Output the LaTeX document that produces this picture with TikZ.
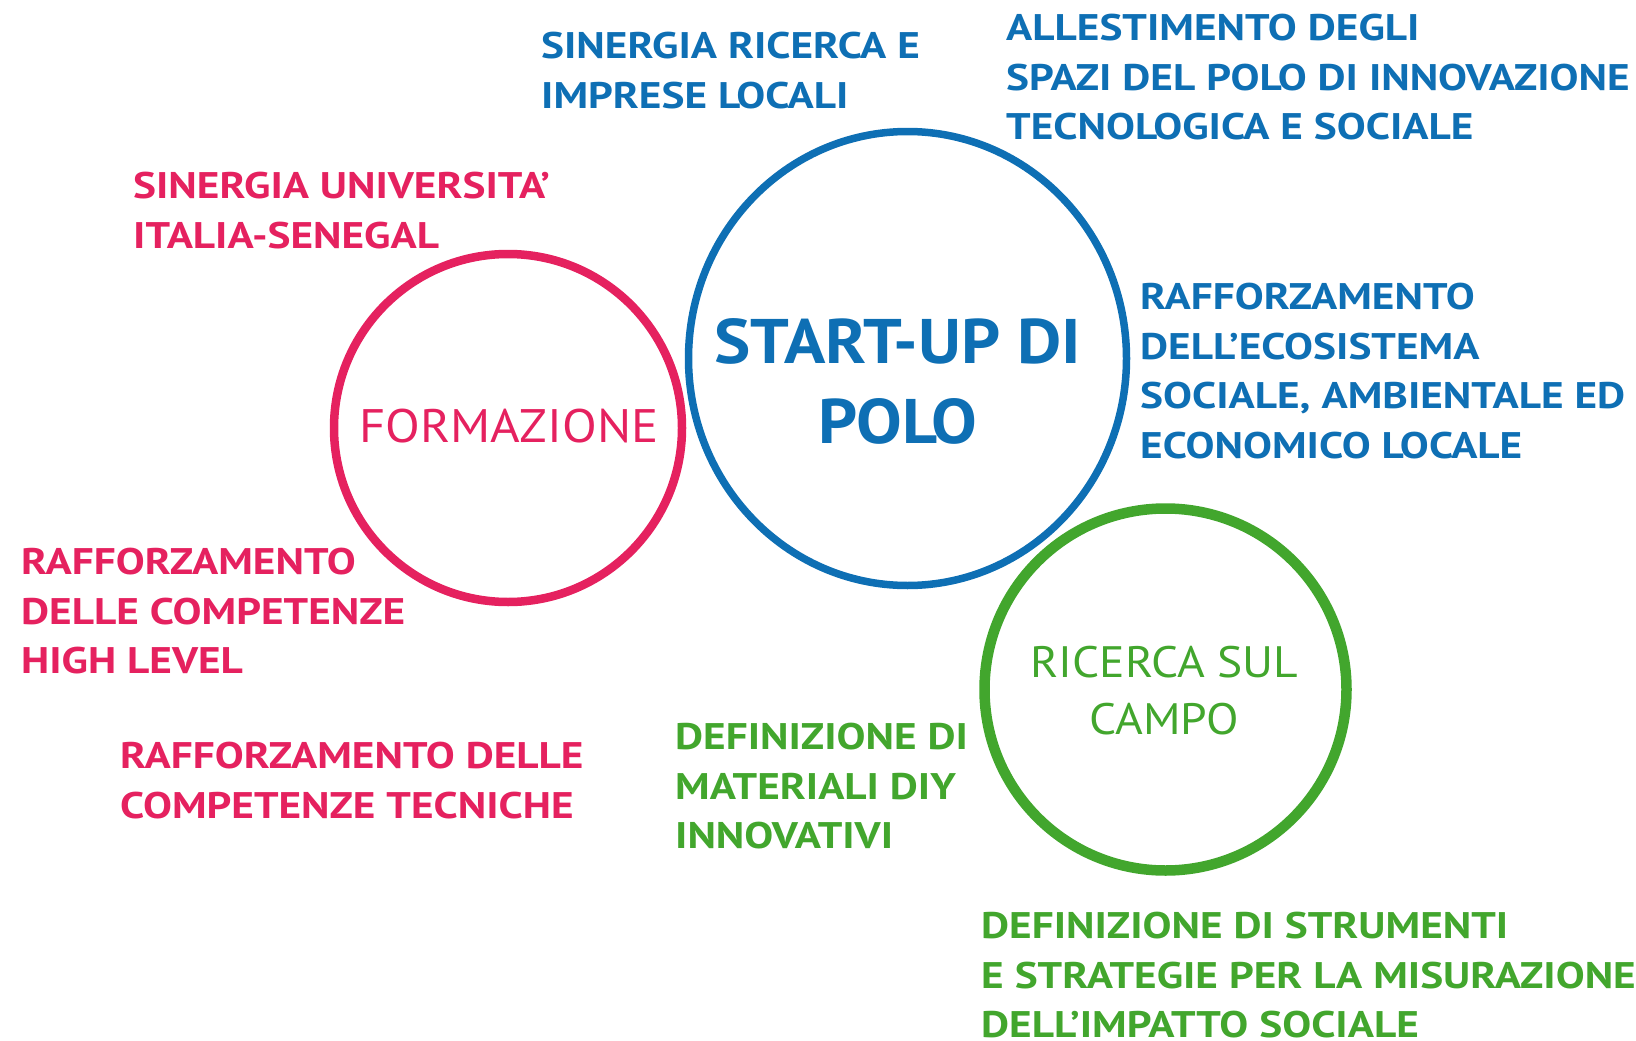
\documentclass[tikz,border=0pt]{standalone}
\usepackage{fontspec}
\setmainfont{PT Sans}
\newfontfamily\goalfont[FakeStretch=1.17]{PT Sans}
\newfontfamily\hubfont[FakeStretch=1.085]{PT Sans}
\newfontfamily\ringfont[FakeStretch=1.08]{PT Sans}
\definecolor{rosa}{HTML}{E5215F}
\definecolor{blu}{HTML}{0E6FB4}
\definecolor{verde}{HTML}{42A62D}
\tikzset{
  goal/.style={inner sep=0pt, anchor=north west, align=left,
    font=\goalfont\bfseries\fontsize{37}{49.5}\selectfont},
  hub/.style={inner sep=0pt, anchor=north, align=center},
}

\begin{document}
\begin{tikzpicture}[x=1pt, y=-1pt]

  \useasboundingbox (0,0) rectangle (1636,1041);

  % circles
  \draw[rosa, line width=8.5pt] (508,428) ellipse [x radius=174pt, y radius=174pt];
  \draw[blu, line width=7.5pt] (907.5,358.5) ellipse [x radius=219pt, y radius=227pt];
  \draw[verde, line width=10.5pt] (1165.5,689.5) ellipse [x radius=181pt, y radius=181pt];

  % circle labels
  \node[hub, rosa, font=\ringfont\fontsize{47}{56}\selectfont] (formazione) at (509,409) {FORMAZIONE};
  \node[hub, blu, font=\hubfont\bfseries\fontsize{63}{80}\selectfont] (startup) at (898,318) {START-UP DI\\POLO};
  \node[hub, verde, font=\ringfont\fontsize{44}{57}\selectfont] (campo) at (1164.5,646) {RICERCA SUL\\CAMPO};

  % blue goals
  \node[goal, blu] (imprese) at (541,32) {SINERGIA RICERCA E\\IMPRESE LOCALI};
  \node[goal, blu] (spazi) at (1006,14) {ALLESTIMENTO DEGLI\\SPAZI DEL POLO DI INNOVAZIONE\\TECNOLOGICA E SOCIALE};
  \node[goal, blu] (ecosistema) at (1140,283) {RAFFORZAMENTO\\DELL’ECOSISTEMA\\SOCIALE, AMBIENTALE ED\\ECONOMICO LOCALE};

  % pink goals
  \node[goal, rosa] (senegal) at (133,172) {SINERGIA UNIVERSITA’\\ITALIA-SENEGAL};
  \node[goal, rosa] (highlevel) at (21,548) {RAFFORZAMENTO\\DELLE COMPETENZE\\HIGH LEVEL};
  \node[goal, rosa] (tecniche) at (120,742) {RAFFORZAMENTO DELLE\\COMPETENZE TECNICHE};

  % green goals
  \node[goal, verde] (materiali) at (675,723) {DEFINIZIONE DI\\MATERIALI DIY\\INNOVATIVI};
  \node[goal, verde] (impatto) at (981,912) {DEFINIZIONE DI STRUMENTI\\E STRATEGIE PER LA MISURAZIONE\\DELL’IMPATTO SOCIALE};

\end{tikzpicture}
\end{document}
